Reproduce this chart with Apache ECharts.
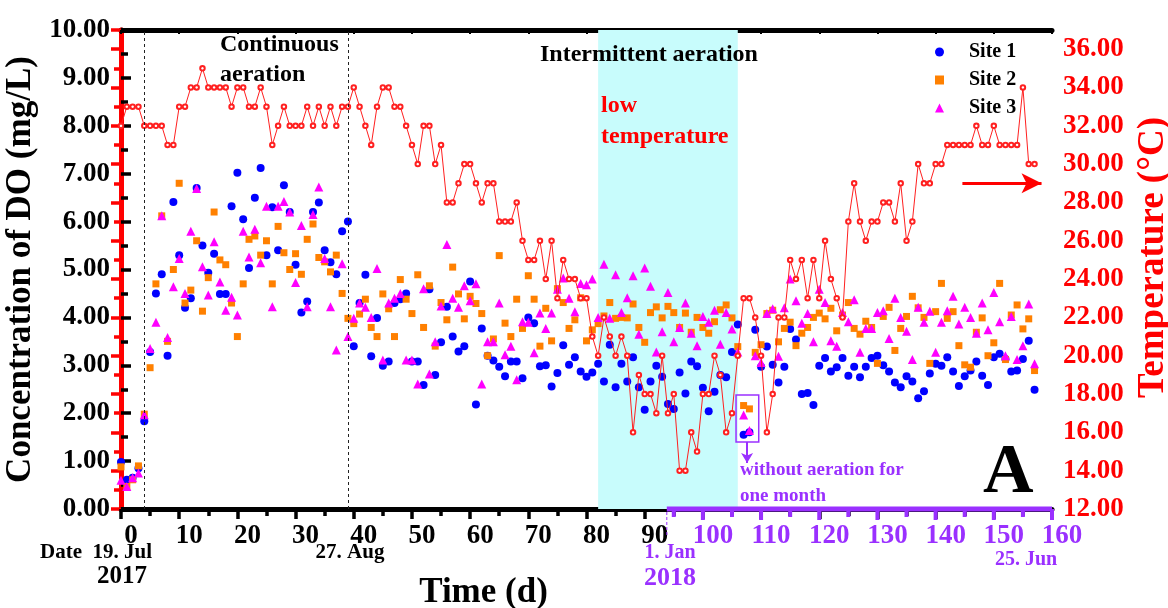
<!DOCTYPE html>
<html>
<head>
<meta charset="utf-8">
<script src="https://cdn.jsdelivr.net/npm/echarts@6/dist/echarts.min.js"></script>
<style>
  html, body { margin: 0; padding: 0; background: #ffffff; }
  #chart { width: 1168px; height: 608px; }
</style>
</head>
<body>
<div id="chart"></div>
<script>
// Dissolved oxygen (mg/L) per sampling day, day = position in the list
const site1 = [
  0.98, 0.61, 0.65, 0.85, 1.83, 3.28, 4.50, 4.90, 3.20, 6.41,
  5.30, 4.20, 4.40, 6.70, 5.50, 4.93, 5.33, 4.49, 4.49, 6.32,
  7.02, 6.05, 5.03, 6.50, 7.12, 5.30, 6.30, 5.40, 6.76, 6.20,
  5.10, 4.10, 4.33, 6.20, 6.40, 5.40, 5.15, 4.90, 5.80, 6.00,
  3.40, 4.30, 4.89, 3.19, 3.99, 2.99, 3.08, 4.30, 4.38, 4.50,
  3.08, 3.08, 2.59, 4.59, 2.80, 3.48, 4.22, 3.60, 3.29, 3.40,
  4.75, 2.18, 3.77, 3.20, 3.10, 2.97, 2.77, 3.08, 3.08, 2.73,
  4.00, 3.88, 2.98, 3.00, 2.56, 2.84, 3.42, 3.01, 3.17, 2.87,
  2.76, 2.85, 3.03, 2.66, 3.43, 2.54, 3.03, 2.66, 3.17, 2.54,
  2.07, 2.66, 2.99, 2.76, 2.19, 2.09, 2.85, 2.41, 3.08, 2.98,
  2.53, 2.04, 2.45, 2.80, 2.75, 3.28, 3.85, 1.55, 1.60, 3.74,
  2.97, 3.39, 3.01, 2.64, 2.97, 3.76, 3.54, 2.40, 2.42, 2.17,
  2.99, 3.15, 2.87, 2.96, 3.15, 2.78, 2.97, 2.75, 2.97, 3.15,
  3.20, 3.00, 2.87, 2.64, 2.54, 2.77, 2.66, 2.31, 2.46, 2.83,
  3.03, 2.99, 3.17, 2.87, 2.57, 2.77, 2.89, 3.08, 2.78, 2.59,
  3.17, 3.24, 3.13, 2.87, 2.89, 3.13, 3.51, 2.49
];
const site2 = [
  0.88, 0.47, 0.61, 0.90, 1.98, 2.95, 4.70, 6.12, 3.50, 5.00,
  6.80, 4.30, 4.57, 5.60, 4.13, 4.83, 6.20, 5.20, 5.10, 4.30,
  3.60, 4.70, 5.63, 5.70, 5.30, 5.60, 4.70, 5.90, 5.35, 5.00,
  5.33, 4.90, 5.63, 5.95, 5.25, 5.16, 4.95, 5.30, 4.50, 3.98,
  3.87, 4.07, 4.38, 3.79, 3.60, 4.49, 4.18, 3.60, 4.79, 4.38,
  4.08, 4.89, 3.79, 4.66, 3.40, 4.31, 3.95, 5.05, 4.49, 3.97,
  4.44, 4.29, 4.08, 3.20, 3.55, 5.29, 3.88, 3.60, 4.38, 3.77,
  4.87, 4.38, 3.40, 4.19, 3.51, 4.60, 4.31, 3.77, 3.95, 4.41,
  3.51, 3.74, 3.87, 4.03, 4.31, 3.98, 4.00, 3.99, 4.28, 3.79,
  3.48, 4.10, 4.22, 3.99, 4.23, 4.10, 3.79, 4.09, 3.69, 4.00,
  3.79, 3.67, 3.91, 4.16, 4.26, 3.99, 3.39, 2.16, 2.09, 3.27,
  3.43, 4.08, 4.15, 3.49, 3.77, 3.90, 3.41, 3.67, 3.79, 4.00,
  4.09, 3.97, 4.19, 3.72, 4.05, 4.31, 3.77, 3.65, 3.92, 3.79,
  3.04, 4.02, 4.21, 3.31, 3.77, 4.02, 4.44, 4.20, 4.00, 3.04,
  4.12, 4.71, 3.98, 4.12, 3.41, 3.01, 2.96, 3.69, 3.99, 3.20,
  3.47, 4.71, 3.12, 4.05, 4.26, 3.76, 3.97, 2.89
];
const site3 = [
  0.60, 0.47, 0.65, 0.75, 1.97, 3.35, 3.90, 6.12, 3.58, 4.64,
  5.23, 4.50, 5.80, 6.69, 5.06, 4.47, 5.58, 4.74, 4.15, 4.42,
  4.05, 5.80, 5.26, 5.84, 5.14, 6.32, 4.22, 6.32, 6.42, 6.20,
  4.73, 5.92, 4.22, 6.15, 6.72, 5.23, 4.22, 3.32, 5.12, 3.60,
  3.98, 4.30, 4.21, 4.00, 5.02, 3.11, 4.30, 4.40, 4.50, 3.11,
  3.11, 2.61, 4.60, 2.82, 3.49, 4.24, 5.52, 4.40, 4.21, 4.66,
  4.35, 4.70, 2.61, 3.49, 3.49, 4.30, 3.22, 3.40, 2.70, 3.91,
  3.90, 3.26, 4.09, 3.77, 4.09, 4.59, 4.82, 4.40, 4.12, 4.71,
  4.68, 4.80, 4.00, 5.11, 3.98, 4.89, 4.10, 4.41, 4.87, 3.65,
  5.03, 4.65, 3.28, 3.70, 4.52, 3.49, 3.79, 4.30, 3.67, 3.41,
  4.02, 3.90, 4.15, 3.44, 4.10, 3.76, 3.28, 1.96, 1.64, 3.20,
  3.06, 4.08, 4.18, 3.19, 4.20, 4.80, 4.35, 3.88, 4.08, 3.49,
  4.59, 4.31, 3.51, 3.40, 4.10, 3.91, 4.37, 3.27, 3.77, 3.77,
  4.10, 4.14, 3.56, 4.40, 4.00, 3.71, 3.12, 4.21, 3.90, 4.13,
  3.27, 3.90, 4.14, 4.44, 3.86, 4.21, 4.00, 3.67, 4.30, 3.74,
  4.52, 3.91, 3.20, 4.02, 3.12, 3.41, 4.28, 3.03
];
// Water temperature (°C) on the same sampling days
const temperature = [
  32, 33, 33, 33, 32, 32, 32, 32, 31, 31,
  33, 33, 34, 34, 35, 34, 34, 34, 34, 33,
  34, 34, 33, 33, 34, 33, 31, 32, 33, 32,
  32, 32, 33, 32, 33, 32, 33, 32, 33, 33,
  34, 33, 32, 31, 33, 34, 34, 33, 33, 32,
  31, 30, 32, 32, 30, 31, 28, 28, 29, 30,
  30, 29, 28, 29, 29, 27, 27, 27, 28, 26,
  25, 25, 26, 24, 26, 23, 25, 24, 24, 23,
  23, 21, 20, 22, 21, 20, 21, 20, 16, 19,
  18, 18, 17, 20, 17, 18, 14, 14, 16, 15,
  18, 18, 20, 19, 16, 17, 20, 23, 23, 22,
  20, 16, 18, 22, 22, 25, 24, 25, 23, 25,
  23, 26, 24, 23, 22, 27, 29, 27, 26, 27,
  27, 28, 28, 27, 29, 26, 27, 30, 29, 29,
  30, 30, 31, 31, 31, 31, 31, 32, 31, 31,
  32, 31, 31, 31, 31, 34, 30, 30
];

// Phase boundaries and annotation anchors (days / axis values)
const phaseLines = [4, 39];              // 23 Jul start of aeration, 27 Aug switch
const lowTempBand = [82, 106];           // low temperature period
const yearStartDay = 93.8;               // 1 Jan 2018
const axisEndDay = 160;
const purpleTicks = [95, 100, 105, 110, 115, 120, 125, 130, 135, 140, 145, 150, 155, 160];
const noAerationBox = [[105.7, 2.38], [109.6, 1.40]];
const noAerationArrow = [[107.6, 1.40], [107.6, 0.96]];
const tempArrow = [[144.6, 29], [158.2, 29]];

const PURPLE = '#9a30ff';
const SERIF = '"Liberation Serif", "Times New Roman", serif';

const withDay = arr => arr.map((v, i) => [i, v]);

const chart = echarts.init(document.getElementById('chart'), null, { renderer: 'canvas' });

const txt = (text, x, y, size, color, align) => ({
  type: 'text', x, y, z: 100, silent: true,
  style: {
    text, fill: color, font: `bold ${size}px ${SERIF}`,
    align: align || 'left', verticalAlign: 'middle'
  }
});

chart.setOption({
  animation: false,
  backgroundColor: '#ffffff',
  textStyle: { fontFamily: SERIF, fontWeight: 'bold' },
  grid: { left: 121, right: 116, top: 30, bottom: 99, containLabel: false, outerBoundsMode: 'none' },
  legend: {
    data: ['Site 1', 'Site 2', 'Site 3'],
    orient: 'vertical', left: 930, top: 37,
    itemWidth: 9, itemHeight: 9, itemGap: 8,
    selectedMode: false,
    textStyle: { fontFamily: SERIF, fontWeight: 'bold', fontSize: 20, color: '#000', padding: [0, 0, 0, 20] }
  },
  xAxis: [{
    type: 'value', min: 0, max: axisEndDay, interval: 10,
    name: 'Time (d)', nameLocation: 'middle', nameGap: 66,
    nameTextStyle: { fontFamily: SERIF, fontWeight: 'bold', fontSize: 35, color: '#000', padding: [0, 206, 0, 0] },
    axisLine: { lineStyle: { color: '#000', width: 5 } },
    axisTick: { inside: false, length: 10, lineStyle: { color: '#000', width: 3.5 } },
    minorTick: { show: true, splitNumber: 2, length: 7, lineStyle: { color: '#000', width: 3.5 } },
    splitLine: { show: false },
    axisLabel: {
      fontFamily: SERIF, fontWeight: 'bold', fontSize: 27, margin: 14,
      padding: [0, 0, 0, 20],
      color: v => (Number(v) > 90 ? PURPLE : '#000')
    }
  }, {
    type: 'value', min: 0, max: axisEndDay, interval: 10, position: 'top',
    axisLine: { lineStyle: { color: '#000', width: 5 } },
    axisTick: { inside: true, length: 4, lineStyle: { color: '#000', width: 2 } },
    minorTick: { show: true, splitNumber: 2, length: 3, lineStyle: { color: '#000', width: 2 } },
    axisLabel: { show: false }, splitLine: { show: false }
  }],
  yAxis: [{
    type: 'value', min: 0, max: 10, interval: 1, position: 'left',
    name: 'Concentration of DO (mg/L)', nameLocation: 'middle', nameRotate: 90, nameGap: 66,
    nameTextStyle: { fontFamily: SERIF, fontWeight: 'bold', fontSize: 35, color: '#000' },
    axisLine: { show: true, lineStyle: { color: '#000', width: 5 } },
    axisTick: { show: true, inside: true, length: 10, lineStyle: { color: '#000', width: 3.5 } },
    minorTick: { show: true, splitNumber: 2, length: 7, lineStyle: { color: '#000', width: 3.5 } },
    splitLine: { show: false },
    axisLabel: { fontFamily: SERIF, fontWeight: 'bold', fontSize: 27, color: '#000', margin: 11,
      formatter: v => Number(v).toFixed(2) }
  }, {
    type: 'value', min: 12, max: 37, interval: 2, position: 'right',
    name: 'Temperature (°C)', nameLocation: 'middle', nameRotate: 90, nameGap: 77,
    nameTextStyle: { fontFamily: SERIF, fontWeight: 'bold', fontSize: 37, color: '#ff0000', padding: [0, 0, 0, 24] },
    axisLine: { show: true, lineStyle: { color: '#ff0000', width: 5 } },
    axisTick: { show: true, inside: true, length: 10, lineStyle: { color: '#ff0000', width: 3.5 } },
    minorTick: { show: true, splitNumber: 2, length: 7, lineStyle: { color: '#ff0000', width: 3.5 } },
    splitLine: { show: false },
    axisLabel: { fontFamily: SERIF, fontWeight: 'bold', fontSize: 27, color: '#ff0000', margin: 11,
      showMaxLabel: false, formatter: v => Number(v).toFixed(2) }
  }],
  series: [
    {
      name: 'Site 1', type: 'scatter', data: withDay(site1),
      symbol: 'circle', symbolSize: 8, itemStyle: { color: '#0000ff', opacity: 1 },
      markArea: {
        silent: true, z: 1,
        itemStyle: { color: '#c8fcfc' },
        data: [[{ xAxis: lowTempBand[0] }, { xAxis: lowTempBand[1] }]]
      },
      markLine: {
        silent: true, symbol: 'none', label: { show: false },
        lineStyle: { color: '#222', width: 1, type: [3, 3] },
        data: phaseLines.map(d => ({ xAxis: d }))
      }
    },
    {
      name: 'Site 2', type: 'scatter', data: withDay(site2),
      symbol: 'rect', symbolSize: 7, itemStyle: { color: '#ff8000', opacity: 1 },
      markArea: {
        silent: true,
        itemStyle: { color: 'rgba(0,0,0,0)', borderColor: PURPLE, borderWidth: 1.5 },
        data: [[{ coord: noAerationBox[0] }, { coord: noAerationBox[1] }]]
      }
    },
    {
      name: 'Site 3', type: 'scatter', data: withDay(site3),
      symbol: 'triangle', symbolSize: 9, itemStyle: { color: '#ff00ff', opacity: 1 },
      markLine: {
        silent: true, symbol: ['none', 'arrow'], symbolSize: [9, 10], label: { show: false },
        lineStyle: { color: PURPLE, width: 2, type: 'solid' },
        data: [[{ coord: noAerationArrow[0] }, { coord: noAerationArrow[1] }]]
      }
    },
    {
      name: 'Temperature', type: 'line', yAxisIndex: 1, data: withDay(temperature),
      symbol: 'emptyCircle', symbolSize: 4.5, showSymbol: true,
      lineStyle: { color: '#ff2020', width: 1 },
      itemStyle: { color: '#ff2020', borderWidth: 1 },
      z: 4,
      markLine: {
        silent: true, symbol: ['none', 'arrow'], symbolSize: [15, 20], label: { show: false },
        lineStyle: { color: '#ff0000', width: 3, type: 'solid' },
        data: [[{ coord: tempArrow[0] }, { coord: tempArrow[1] }]]
      }
    },
    {
      // 2018 part of the time axis
      name: 'year2018', type: 'line', silent: true, clip: false, z: 5,
      data: [[yearStartDay, 0], [axisEndDay, 0]],
      symbol: 'none', lineStyle: { color: PURPLE, width: 5 }
    },
    {
      name: 'year2018Ticks', type: 'custom', silent: true, clip: false, z: 5,
      data: purpleTicks.map(d => [d, 0]),
      renderItem: (params, api) => {
        const v = api.value(0);
        const p = api.coord([v, api.value(1)]);
        const len = v % 10 === 0 ? 11 : 8;
        return {
          type: 'line',
          shape: { x1: p[0], y1: p[1], x2: p[0], y2: p[1] + len },
          style: { stroke: PURPLE, lineWidth: 4 }
        };
      }
    },
    {
      name: 'yearStartMark', type: 'custom', silent: true, clip: false, z: 5,
      data: [[yearStartDay, 0]],
      renderItem: (params, api) => {
        const p = api.coord([api.value(0), api.value(1)]);
        return {
          type: 'line',
          shape: { x1: p[0], y1: p[1] + 3, x2: p[0], y2: p[1] + 26 },
          style: { stroke: PURPLE, lineWidth: 1, lineDash: [3, 2] }
        };
      }
    }
  ],
  graphic: [
    txt('Continuous', 220, 45, 24, '#000'),
    txt('aeration', 220, 75, 24, '#000'),
    txt('Intermittent aeration', 540, 55, 24, '#000'),
    txt('low', 601, 106, 24, '#ff0000'),
    txt('temperature', 601, 137, 24, '#ff0000'),
    txt('without aeration for', 740, 470, 19, PURPLE),
    txt('one month', 740, 496, 19, PURPLE),
    txt('A', 983, 474, 70, '#000'),
    txt('Date  19. Jul', 40, 553, 21, '#000'),
    txt('2017', 122, 577, 25, '#000', 'center'),
    txt('27. Aug', 350, 553, 21, '#000', 'center'),
    txt('1. Jan', 670, 553, 20, PURPLE, 'center'),
    txt('2018', 670, 578, 26, PURPLE, 'center'),
    txt('25. Jun', 1026, 560, 20, PURPLE, 'center')
  ]
});
</script>
</body>
</html>
